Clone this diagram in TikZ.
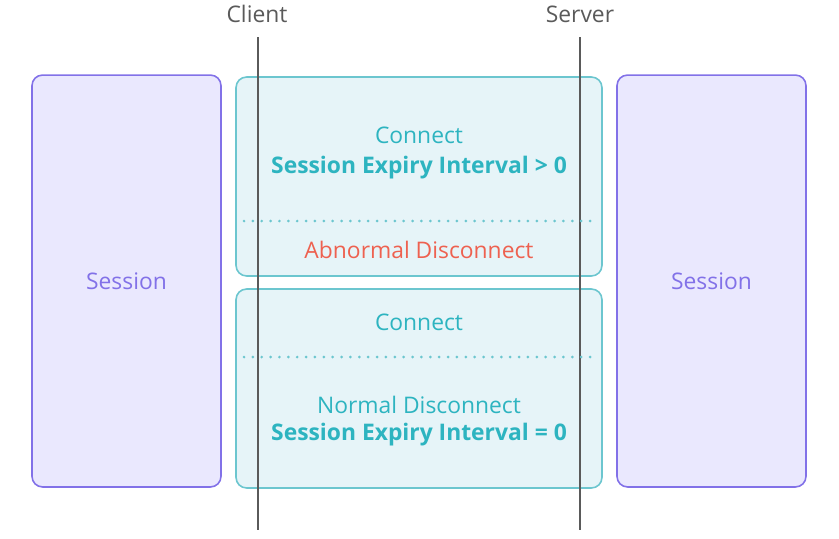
\documentclass[tikz,border=0pt]{standalone}
\usepackage{fontspec}
\setmainfont{Open Sans}
\usetikzlibrary{positioning}

\definecolor{sessionFill}{HTML}{EAE8FE}
\definecolor{sessionLine}{HTML}{8271E8}
\definecolor{phaseFill}{HTML}{E6F4F8}
\definecolor{phaseLine}{HTML}{6CC6CF}
\definecolor{phaseText}{HTML}{2DB4C0}
\definecolor{alertText}{HTML}{EE6150}
\definecolor{lifeLine}{HTML}{5A5A5A}

\begin{document}
\begin{tikzpicture}[%%
  x=0.02cm,y=-0.02cm,%%
  sessionStyle/.style={draw=sessionLine,fill=sessionFill,line width=0.9pt,rounded corners=6pt,%%
    minimum width=3.78cm,minimum height=8.24cm,text=sessionLine,font=\fontsize{13}{15}\selectfont},%%
  phaseStyle/.style={draw=phaseLine,fill=phaseFill,line width=0.9pt,rounded corners=6pt,%%
    minimum width=7.32cm,minimum height=3.98cm},%%
  lifeStyle/.style={-,draw=lifeLine,line width=0.8pt},%%
  dotStyle/.style={draw=phaseLine,line width=1.7pt,line cap=round,dash pattern=on 0pt off 5.05pt},%%
  labelStyle/.style={text=lifeLine,font=\fontsize{13}{15}\selectfont},%%
  msgStyle/.style={text=phaseText,font=\fontsize{13}{15}\selectfont},%%
  boldStyle/.style={text=phaseText,font=\fontsize{13}{15}\selectfont\bfseries}%%
]
%%
\useasboundingbox (0,0) rectangle (839,538);
%%
%% The two sessions.
\node[sessionStyle] (clientSession) at (126.5,281) {Session};
\node[sessionStyle] (serverSession) at (711.5,281) {Session};
%%
%% The two connections.
\node[phaseStyle] (firstPhase) at (419,176.5) {};
\node[phaseStyle] (secondPhase) at (419,388.5) {};
%%
%% Client and server.
\node[labelStyle] (client) at (257,14) {Client};
\node[labelStyle] (server) at (580,14) {Server};
\coordinate (clientTop) at (258,37);
\coordinate (clientBottom) at (258,530);
\coordinate (serverTop) at (580,37);
\coordinate (serverBottom) at (580,530);
\draw[lifeStyle] (clientTop) -- (clientBottom);
\draw[lifeStyle] (serverTop) -- (serverBottom);
%%
%% First connection.
\node[msgStyle] (connectA) at (419,135) {Connect};
\node[boldStyle] (expiryA) at (419,168) {Session Expiry Interval > 0};
\coordinate (dotsAleft) at (244,221);
\coordinate (dotsAright) at (597,221);
\draw[dotStyle] (dotsAleft) -- (dotsAright);
\node[msgStyle,text=alertText] (abnormal) at (419,250) {Abnormal Disconnect};
%%
%% Second connection.
\node[msgStyle] (connectB) at (419,322) {Connect};
\coordinate (dotsBleft) at (244,357);
\coordinate (dotsBright) at (597,357);
\draw[dotStyle] (dotsBleft) -- (dotsBright);
\node[msgStyle] (normal) at (419,405) {Normal Disconnect};
\node[boldStyle] (expiryB) at (419,435) {Session Expiry Interval = 0};
\end{tikzpicture}
\end{document}
